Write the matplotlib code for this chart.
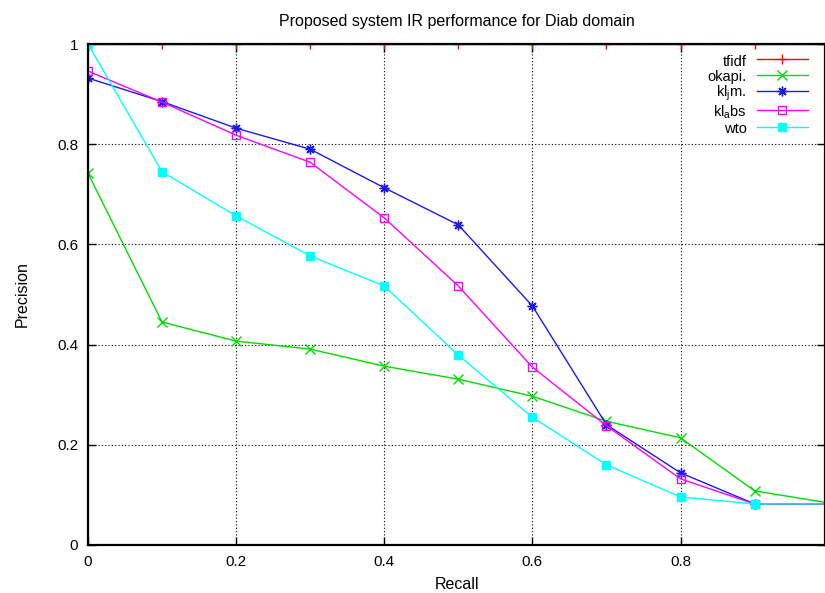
"""Precision/recall curves for the Diab domain, gnuplot look."""

import matplotlib

matplotlib.use("Agg")
import matplotlib.pyplot as plt

plt.rcParams["font.family"] = ["Liberation Sans", "DejaVu Sans"]
plt.rcParams["mathtext.fontset"] = "custom"
plt.rcParams["mathtext.rm"] = "Liberation Sans"
plt.rcParams["mathtext.it"] = "Liberation Sans"

recall = [0.0, 0.1, 0.2, 0.3, 0.4, 0.5, 0.6, 0.7, 0.8, 0.9, 1.0]

tfidf = [1.0, 1.0, 1.0, 1.0, 1.0, 1.0, 1.0, 1.0, 1.0, 1.0, 1.0]
okapi = [0.742, 0.445, 0.407, 0.391, 0.357, 0.331, 0.297, 0.247, 0.214, 0.108, 0.084]
kl_jm = [0.932, 0.885, 0.832, 0.790, 0.713, 0.639, 0.477, 0.240, 0.144, 0.082, 0.082]
kl_abs = [0.946, 0.884, 0.818, 0.764, 0.653, 0.517, 0.355, 0.238, 0.132, 0.082, 0.082]
wto = [1.0, 0.745, 0.657, 0.577, 0.517, 0.379, 0.255, 0.160, 0.096, 0.082, 0.082]

x_ticks = [0.0, 0.2, 0.4, 0.6, 0.8]
x_labels = ["0", "0.2", "0.4", "0.6", "0.8"]
y_ticks = [0.0, 0.2, 0.4, 0.6, 0.8, 1.0]
y_labels = ["0", "0.2", "0.4", "0.6", "0.8", "1"]

series = [
    ("tfidf", tfidf, "#ff0000", "+", "full"),
    ("okapi.", okapi, "#00dd00", "x", "full"),
    (r"kl$_\mathregular{j}$m.", kl_jm, "#1a1aee", (8, 2, 0), "full"),
    (r"kl$_\mathregular{a}$bs", kl_abs, "#ff00ff", "s", "none"),
    ("wto", wto, "#00ffff", "s", "full"),
]

W, H = 825, 593
fig = plt.figure(figsize=(W / 100, H / 100), dpi=100)
ax = fig.add_axes([88 / W, (H - 545) / H, (W - 88) / W, 501 / H])

for label, values, colour, marker, fill in series:
    size = 6 if marker == "s" else 7
    ax.plot(
        recall, values, color=colour, linewidth=1.0, marker=marker,
        markersize=size, fillstyle=fill, markeredgewidth=1.0, label=label,
    )

ax.set_xlim(0, 0.995)
ax.set_ylim(0, 1)
ax.set_xticks(x_ticks, x_labels)
ax.set_yticks(y_ticks, y_labels)
ax.tick_params(direction="in", length=6, width=1, top=True, right=True,
               labelsize=11, pad=7)
ax.grid(True, color="black", linestyle=(0, (1, 2)), linewidth=0.8)
for spine in ax.spines.values():
    spine.set_linewidth(1.6)

ax.set_title("Proposed system IR performance for Diab domain", fontsize=11.5, pad=13)
ax.set_xlabel("Recall", fontsize=11.5, labelpad=6)
ax.set_ylabel("Precision", fontsize=11.5, labelpad=20)

ax.legend(
    loc="upper right", bbox_to_anchor=(815 / W, (H - 46) / H),
    bbox_transform=fig.transFigure, frameon=False, markerfirst=False,
    fontsize=10.5, handlelength=3.5, handleheight=1.2, labelspacing=0.0,
    borderpad=0, handletextpad=0.7,
)

fig.savefig("out.png", dpi=100, facecolor="white")
